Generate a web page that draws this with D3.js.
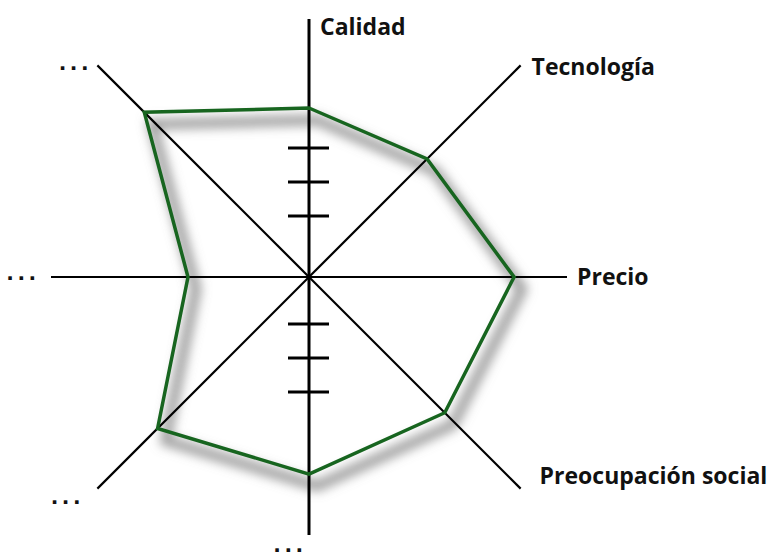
<!DOCTYPE html>
<html>
<head>
<meta charset="utf-8">
<script src="https://cdn.jsdelivr.net/npm/d3@7"></script>
<style>
  body { margin: 0; background: #fff; }
  text { font-family: "Open Sans", "DejaVu Sans", sans-serif; font-weight: bold; fill: #111; }
  text.dots { font-family: "DejaVu Sans", sans-serif; }
</style>
</head>
<body>
<div id="chart"></div>
<script>
// axis names, clockwise from the top
const categories = ["Calidad", "Tecnología", "Precio", "Preocupación social", "...", "...", "...", "..."];
// score on each axis (0..100)
const values = [65.5, 64.7, 79.5, 74.4, 76.4, 83, 46.9, 90.3];
// how far each axis line reaches, same units
const axisLength = [100, 116, 100, 116, 100, 116, 100, 116];
// tick marks on the vertical axis, above and below the center
const ticksUp = [23.6, 36.8, 50];
const ticksDown = [18.2, 31.4, 44.6];

const width = 774, height = 558;
const cx = 309, cy = 277;

const r = d3.scaleLinear().domain([0, 100]).range([0, 258]);
const angle = d3.scaleLinear().domain([0, categories.length]).range([0, 2 * Math.PI]);

function pt(i, v) {
  const a = angle(i);
  return [cx + r(v) * Math.sin(a), cy - r(v) * Math.cos(a)];
}

const svg = d3.select("#chart").append("svg")
  .attr("width", width)
  .attr("height", height);

const defs = svg.append("defs");
defs.append("filter")
  .attr("id", "blur")
  .attr("x", "-20%").attr("y", "-20%")
  .attr("width", "140%").attr("height", "140%")
  .append("feGaussianBlur")
  .attr("stdDeviation", 5.5);

const line = d3.line().curve(d3.curveLinearClosed);
const poly = values.map((v, i) => pt(i, v));

// shadow first, under the axes
svg.append("path")
  .attr("d", line(poly))
  .attr("transform", "translate(8,12)")
  .attr("fill", "none")
  .attr("stroke", "#808080")
  .attr("stroke-width", 10)
  .attr("stroke-opacity", 0.8)
  .attr("filter", "url(#blur)");

// axes
svg.selectAll("line.axis")
  .data(categories)
  .join("line")
  .attr("class", "axis")
  .attr("x1", (d, i) => pt(i, axisLength[i])[0])
  .attr("y1", (d, i) => pt(i, axisLength[i])[1])
  .attr("x2", (d, i) => pt((i + 4) % 8, 0)[0])
  .attr("y2", (d, i) => pt((i + 4) % 8, 0)[1])
  .attr("stroke", "#000")
  .attr("stroke-width", (d, i) => i % 4 == 0 ? 3 : 2.2);

// ticks
const ticks = ticksUp.map(t => cy - r(t)).concat(ticksDown.map(t => cy + r(t)));
svg.selectAll("line.tick")
  .data(ticks)
  .join("line")
  .attr("class", "tick")
  .attr("x1", cx - 21).attr("x2", cx + 20)
  .attr("y1", d => d)
  .attr("y2", d => d)
  .attr("stroke", "#000")
  .attr("stroke-width", 3);

// data polygon
svg.append("path")
  .attr("d", line(poly))
  .attr("fill", "none")
  .attr("stroke", "#17651f")
  .attr("stroke-width", 3.5)
  .attr("stroke-linejoin", "miter");

// label offsets from the end of each axis
const labelOffset = [[11, 16, "start"], [11, 10, "start"], [10, 8, "start"], [19, -5, "start"],
  [-19, 17, "middle"], [-30, 15, "middle"], [-28, 3, "middle"], [-22, 5, "middle"]];

svg.selectAll("text.label")
  .data(categories)
  .join("text")
  .attr("class", d => d == "..." ? "label dots" : "label")
  .attr("x", (d, i) => pt(i, axisLength[i])[0] + labelOffset[i][0])
  .attr("y", (d, i) => pt(i, axisLength[i])[1] + labelOffset[i][1])
  .attr("text-anchor", (d, i) => labelOffset[i][2])
  .attr("font-size", d => d == "..." ? 20 : 23)
  .attr("letter-spacing", d => d == "..." ? 3.5 : 0)
  .text(d => d);
</script>
</body>
</html>
